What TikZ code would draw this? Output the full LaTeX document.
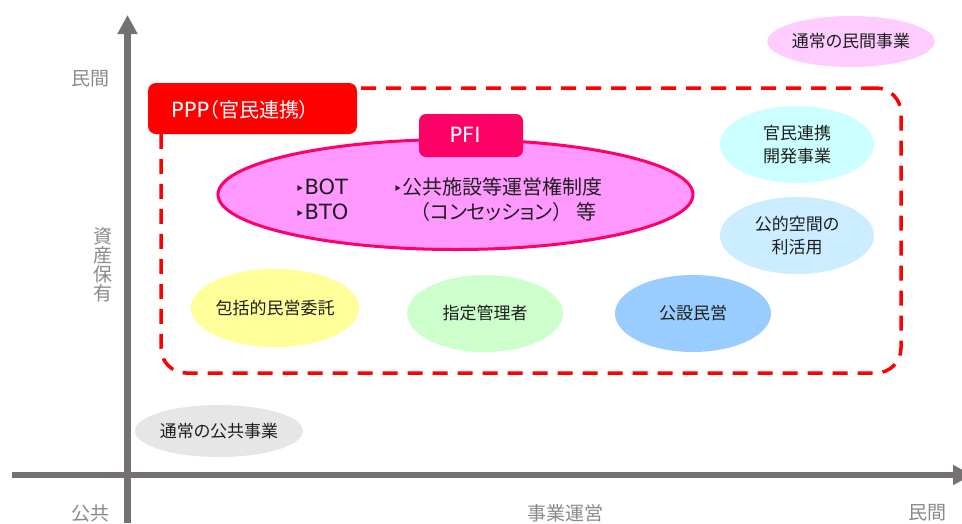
\documentclass[tikz,border=0pt]{standalone}
\usepackage{fontspec}
\setmainfont{Noto Sans CJK JP}[RawFeature=+palt]
\newfontfamily\latinfont{DejaVu Sans}
\usetikzlibrary{shapes.geometric,arrows.meta}
\definecolor{axisgray}{HTML}{767171}
\definecolor{labelgray}{HTML}{8A8A8A}
\definecolor{pfipink}{HTML}{FF0066}
\definecolor{pfifill}{HTML}{FF99FF}
\definecolor{cPrivate}{HTML}{FFCCFF}
\definecolor{cDev}{HTML}{CCFFFF}
\definecolor{cSpace}{HTML}{CCECFF}
\definecolor{cComp}{HTML}{FFFF99}
\definecolor{cShitei}{HTML}{CCFFCC}
\definecolor{cKosetsu}{HTML}{99CCFF}
\definecolor{cPublic}{HTML}{E7E6E6}
\definecolor{txt}{HTML}{1E1E1E}
\tikzset{
  axisline/.style={draw=axisgray, line width=6.5pt, -{Triangle[width=19pt,length=19pt]}},
  axislabel/.style={text=labelgray, font=\fontsize{19}{21}\selectfont, inner sep=0pt},
  blob/.style={ellipse, inner sep=0pt, text=txt, align=center, font=\fontsize{17}{23}\selectfont},
  region/.style={draw=red, line width=3.5pt, dash pattern=on 15pt off 10pt, rounded corners=25pt, inner sep=0pt},
  redtag/.style={fill=red, rounded corners=8pt, inner sep=0pt},
  pinktag/.style={fill=pfipink, rounded corners=7pt, inner sep=0pt},
  tagtext/.style={text=white, font=\fontsize{20}{22}\selectfont, inner sep=0pt},
  bigtext/.style={text=txt, font=\fontsize{20}{22}\selectfont, inner sep=0pt, anchor=west},
}
\newcommand{\tri}{{\latinfont\fontsize{16}{16}\selectfont ‣}}
\newcommand{\lat}[1]{{\latinfont\fontsize{21}{22}\selectfont #1}}
\begin{document}
\begin{tikzpicture}[x=1pt,y=-1pt]
\useasboundingbox[fill=white] (0,0) rectangle (962,523);
% axes
\coordinate (ybot) at (127.5,523);
\coordinate (ytop) at (127.5,15);
\coordinate (xleft) at (12,475);
\coordinate (xright) at (972,475);
\draw[axisline] (ybot) -- (ytop);
\draw[axisline] (xleft) -- (xright);
% axis labels
\node[axislabel] (lblPrivTop) at (90,79) {民間};
\node[axislabel, align=center, font=\fontsize{19}{19}\selectfont] (lblAsset) at (103,265) {資\\産\\保\\有};
\node[axislabel] (lblPublic) at (90,513) {公共};
\node[axislabel] (lblOps) at (565,513) {事業運営};
\node[axislabel] (lblPrivRight) at (927,513) {民間};
% PPP region
\node[region, minimum width=740pt, minimum height=285pt] (ppparea) at (531,230.5) {};
\node[redtag, minimum width=209pt, minimum height=51pt] (ppp) at (252.5,108.5) {};
\node[tagtext, anchor=west] (ppptext) at (171,110) {\lat{PPP}（官民連携）};
% PFI ellipse
\node[ellipse, draw=pfipink, line width=3pt, fill=pfifill, minimum width=475pt, minimum height=110pt, inner sep=0pt] (pfi) at (455.5,194.5) {};
\node[pinktag, minimum width=104pt, minimum height=43pt] (pfitag) at (471,135.5) {};
\node[tagtext] (pfitext) at (465,135) {\lat{PFI}};
\node[bigtext] (bot) at (295,187) {\tri\lat{BOT}};
\node[bigtext] (bto) at (295,212) {\tri\lat{BTO}};
\node[bigtext] (conc1) at (393,187) {\tri 公共施設等運営権制度};
\node[bigtext] (conc2) at (420,212) {（コンセッション）\hspace{14pt}等};
% other schemes
\node[blob, fill=cPrivate, minimum width=160pt, minimum height=51pt] (private) at (851,41.5) {通常の民間事業};
\node[blob, fill=cDev, minimum width=154pt, minimum height=77pt] (dev) at (797,144.5) {官民連携\\開発事業};
\node[blob, fill=cSpace, minimum width=154pt, minimum height=77pt] (space) at (797,235.5) {公的空間の\\利活用};
\node[blob, fill=cComp, minimum width=164pt, minimum height=78pt] (comp) at (275,308) {包括的民営委託};
\node[blob, fill=cShitei, minimum width=156pt, minimum height=77pt] (shitei) at (485,313.5) {指定管理者};
\node[blob, fill=cKosetsu, minimum width=156pt, minimum height=77pt] (kosetsu) at (693,313.5) {公設民営};
\node[blob, fill=cPublic, minimum width=168pt, minimum height=52pt] (public) at (219,431) {通常の公共事業};
\end{tikzpicture}
\end{document}
